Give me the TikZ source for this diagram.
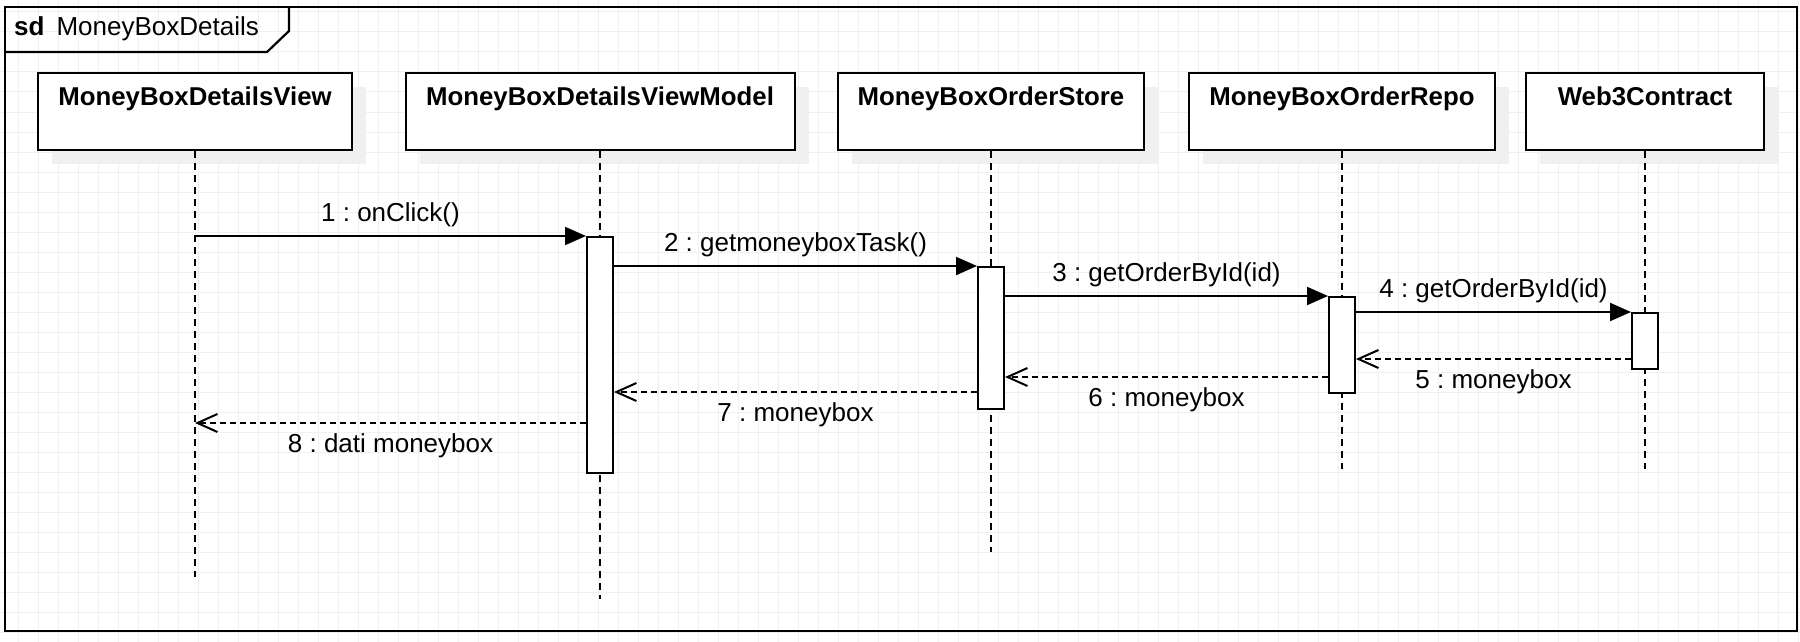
\documentclass[tikz,border=0pt]{standalone}
\usepackage{fontspec}
\setmainfont{Liberation Sans}
\usetikzlibrary{arrows.meta,positioning,shadows}
\definecolor{GridClr}{RGB}{240,240,240}
\definecolor{ShadowClr}{RGB}{240,240,240}
\frenchspacing

\begin{document}
\begin{tikzpicture}[x=1pt,y=-1pt,
  every node/.style={font=\fontsize{26}{31}\selectfont},
  lifebox/.style={draw,line width=2pt,fill=white,inner sep=0pt,anchor=north,
    minimum height=77pt,text height=32pt,text depth=45pt,
    font=\fontsize{25.8}{31}\selectfont\bfseries,
    drop shadow={shadow xshift=14pt,shadow yshift=-14pt,fill=ShadowClr,opacity=1}},
  actbar/.style={draw,line width=2pt,fill=white,inner sep=0pt,anchor=north,minimum width=26pt},
  lifeline/.style={line width=2pt,dash pattern=on 7pt off 5pt},
  msg/.style={line width=2pt,-{Triangle[length=21pt,width=18pt]}},
  ret/.style={line width=2pt,dash pattern=on 6pt off 4pt,-{Straight Barb[length=20pt,width=18pt]}},
  msglbl/.style={inner sep=0pt,text height=18pt,text depth=5pt}]
\useasboundingbox (0,0) rectangle (1800,642);

% background grid
\foreach \gx in {18,38,...,1798} \draw[GridClr,line width=1pt] (\gx,0) -- (\gx,642);
\foreach \gy in {12,32,...,632} \draw[GridClr,line width=1pt] (0,\gy) -- (1800,\gy);

% frame
\draw[line width=2.2pt] (5,7) rectangle (1797,631);
\draw[line width=2.2pt] (5,52) -- (267,52) -- (289,31) -- (289,7);
\node[anchor=base west,inner sep=0pt] (title) at (14,36) {\textbf{sd}\hspace{12pt}MoneyBoxDetails};

% lifelines
\node[lifebox,minimum width=314pt] (view) at (195,72) {MoneyBoxDetailsView};
\node[lifebox,minimum width=389pt] (vm) at (600,72) {MoneyBoxDetailsViewModel};
\node[lifebox,minimum width=306pt] (store) at (991,72) {MoneyBoxOrderStore};
\node[lifebox,minimum width=306pt] (repo) at (1342,72) {MoneyBoxOrderRepo};
\node[lifebox,minimum width=238pt] (web3) at (1645,72) {Web3Contract};

\draw[lifeline] (view.south) -- (view.south |- 0,577);
\draw[lifeline] (vm.south) -- (vm.south |- 0,599);
\draw[lifeline] (store.south) -- (store.south |- 0,552);
\draw[lifeline] (repo.south) -- (repo.south |- 0,469);
\draw[lifeline] (web3.south) -- (web3.south |- 0,469);

% activations
\node[actbar,minimum height=236pt] (act2) at (vm.south |- 0,236) {};
\node[actbar,minimum height=142pt] (act3) at (store.south |- 0,266) {};
\node[actbar,minimum height=96pt] (act4) at (repo.south |- 0,296) {};
\node[actbar,minimum height=56pt] (act5) at (web3.south |- 0,312) {};

% messages
\draw[msg] (view.south |- act2.north) -- (act2.north west)
  node[msglbl,midway,above=8.5pt] {1 : onClick()};
\draw[msg] (act2.east |- act3.north) -- (act3.north west)
  node[msglbl,midway,above=8.5pt] {2 : getmoneyboxTask()};
\draw[msg] (act3.east |- act4.north) -- (act4.north west)
  node[msglbl,midway,above=8.5pt] {3 : getOrderById(id)};
\draw[msg] (act4.east |- act5.north) -- (act5.north west)
  node[msglbl,midway,above=8.5pt] {4 : getOrderById(id)};

\draw[ret] (act5.west |- 0,359) -- (act4.east |- 0,359)
  node[msglbl,midway,below=10pt] {5 : moneybox};
\draw[ret] (act4.west |- 0,377) -- (act3.east |- 0,377)
  node[msglbl,midway,below=10pt] {6 : moneybox};
\draw[ret] (act3.west |- 0,392) -- (act2.east |- 0,392)
  node[msglbl,midway,below=10pt] {7 : moneybox};
\draw[ret] (act2.west |- 0,423) -- (view.south |- 0,423)
  node[msglbl,midway,below=10pt] {8 : dati moneybox};

\end{tikzpicture}
\end{document}
